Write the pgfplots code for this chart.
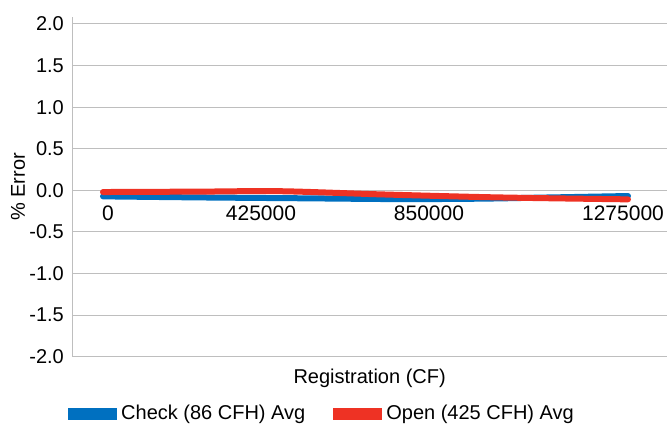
\documentclass[border=0pt]{standalone}
\usepackage{pgfplots}
\pgfplotsset{compat=1.18}
\usepackage{fontspec}
\setmainfont{Liberation Sans}
\definecolor{cblue}{RGB}{0,112,192}
\definecolor{cred}{RGB}{238,50,36}
\definecolor{gridgray}{RGB}{190,190,190}
\begin{document}
\begin{tikzpicture}
\begin{axis}[
  scale only axis, width=297.4pt, height=169.9pt,
  xmin=72.3, xmax=667, ymin=-2, ymax=2.084,
  axis y line*=left, axis x line*=middle,
  axis line style={draw=gridgray, line width=0.5pt},
  major tick length=0pt,
  ytick={-2,-1.5,-1,-0.5,0,0.5,1,1.5,2},
  yticklabels={-2.0,-1.5,-1.0,-0.5,0.0,0.5,1.0,1.5,2.0},
  xtick={108,261,429,623},
  xticklabels={0,425000,850000,1275000},
  ymajorgrids, grid style={draw=gridgray, line width=0.5pt},
  yticklabel style={font=\fontsize{10}{12}\selectfont, xshift=-0.7pt},
  xticklabel style={font=\fontsize{10.5}{12}\selectfont, yshift=-4pt},
  xlabel={Registration (CF)},
  ylabel={\% Error},
  xlabel style={at={(axis description cs:0.5,0)}, anchor=north, yshift=-2.5pt, font=\fontsize{10}{12}\selectfont},
  ylabel style={at={(axis description cs:-0.0913,0.5)}, anchor=center, font=\fontsize{10}{12}\selectfont},
  legend style={at={(axis description cs:0.4216,0)}, anchor=center, yshift=-28.5pt, draw=none, fill=none,
    legend columns=2, font=\fontsize{10}{12}\selectfont,
    /tikz/every even column/.append style={column sep=12pt}},
  legend image code/.code={\fill[#1,draw=none] (0pt,-3pt) rectangle (24.5pt,3pt);},
  clip=false,
]
\coordinate (bl) at (rel axis cs:0,0);
\coordinate (tr) at (rel axis cs:1,1);
\addplot[color=cblue, line width=3pt, line cap=round, smooth, tension=0.5] coordinates {
  (103,-0.072) (200,-0.085) (300,-0.095) (400,-0.105) (480,-0.100) (550,-0.085) (628,-0.068)
};
\addlegendentry{Check (86 CFH) Avg}
\addplot[color=cred, line width=3pt, line cap=round, smooth, tension=0.5] coordinates {
  (103,-0.020) (200,-0.015) (280,-0.010) (380,-0.048) (480,-0.080) (550,-0.095) (628,-0.108)
};
\addlegendentry{Open (425 CFH) Avg}
\end{axis}
\pgfresetboundingbox
\path ([shift={(-36.15pt,-33.15pt)}]bl) rectangle ([shift={(0pt,8.5pt)}]tr);
\end{tikzpicture}
\end{document}
